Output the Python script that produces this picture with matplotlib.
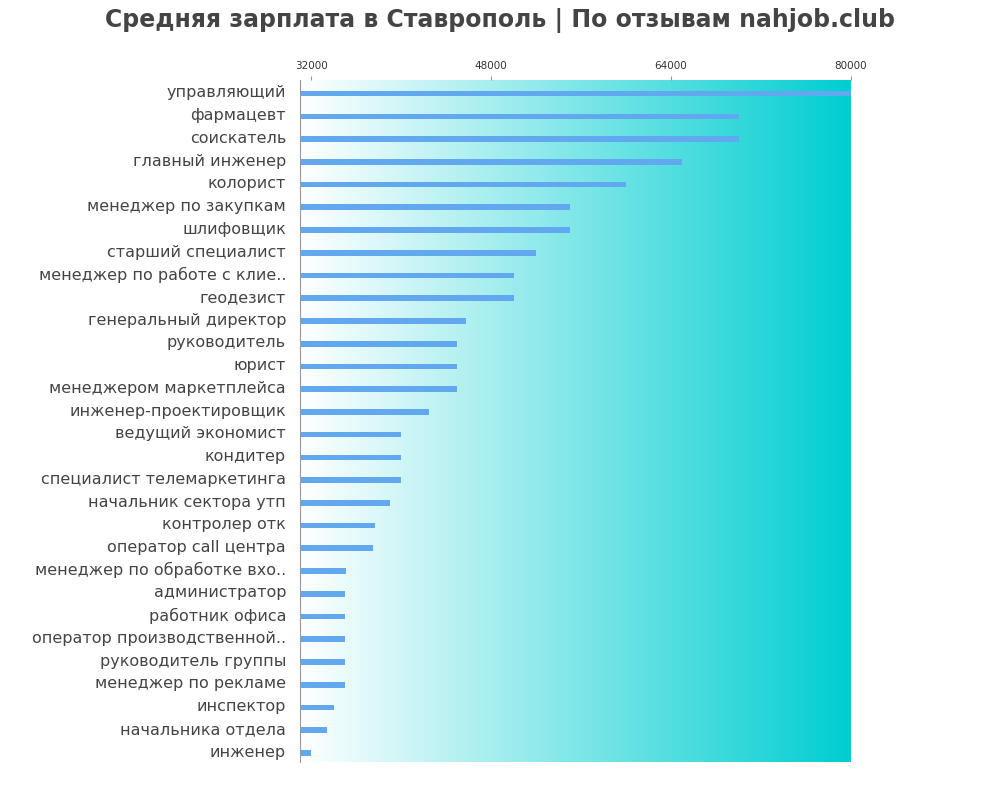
import matplotlib.pyplot as plt
import numpy as np

jobs = [
    "управляющий", "фармацевт", "соискатель", "главный инженер", "колорист",
    "менеджер по закупкам", "шлифовщик", "старший специалист",
    "менеджер по работе с клие..", "геодезист", "генеральный директор",
    "руководитель", "юрист", "менеджером маркетплейса", "инженер-проектировщик",
    "ведущий экономист", "кондитер", "специалист телемаркетинга",
    "начальник сектора утп", "контролер отк", "оператор call центра",
    "менеджер по обработке вхо..", "администратор", "работник офиса",
    "оператор производственной..", "руководитель группы", "менеджер по рекламе",
    "инспектор", "начальника отдела", "инженер",
]
salaries = [
    80000, 70000, 70000, 65000, 60000,
    55000, 55000, 52000, 50000, 50000, 45800,
    45000, 45000, 45000, 42500,
    40000, 40000, 40000, 39000, 37700, 37500,
    35100, 35000, 35000, 35000, 35000, 35000,
    34000, 33400, 32000,
]
ticks = [32000, 48000, 64000, 80000]

fig = plt.figure(figsize=(10, 8), dpi=100)
ax = fig.add_axes([0.3, 0.0475, 0.551, 0.8525])
xmin, xmax = 31000, 80000
n = len(jobs)
y = np.arange(n)

grad = np.linspace(0, 1, 256).reshape(1, -1)
from matplotlib.colors import LinearSegmentedColormap
cmap = LinearSegmentedColormap.from_list("g", ["#ffffff", "#00ced1"])
ax.imshow(grad, cmap=cmap, aspect="auto", extent=[xmin, xmax, n - 0.5, -0.5], zorder=0)

ax.barh(y + 0.1, [s - xmin for s in salaries], left=xmin, height=0.25, color="#62a8ef", zorder=2)
ax.set_xlim(xmin, xmax)
ax.set_ylim(n - 0.5, -0.5)
ax.set_yticks(y)
ax.set_yticklabels(jobs, fontsize=11.5, color="#444444")
ax.tick_params(axis="y", length=0, pad=10)
ax.xaxis.tick_top()
ax.set_xticks(ticks)
ax.set_xticklabels([str(t) for t in ticks], fontsize=7.5, color="#333333")
ax.tick_params(axis="x", length=3, color="#999999")
for side in ["right", "bottom", "top"]:
    ax.spines[side].set_visible(False)
ax.spines["left"].set_color("#999999")

fig.suptitle("Средняя зарплата в Ставрополь | По отзывам nahjob.club", x=0.5, y=0.99,
             fontsize=17, fontweight="bold", color="#444444")
fig.savefig("out.png", dpi=100)
